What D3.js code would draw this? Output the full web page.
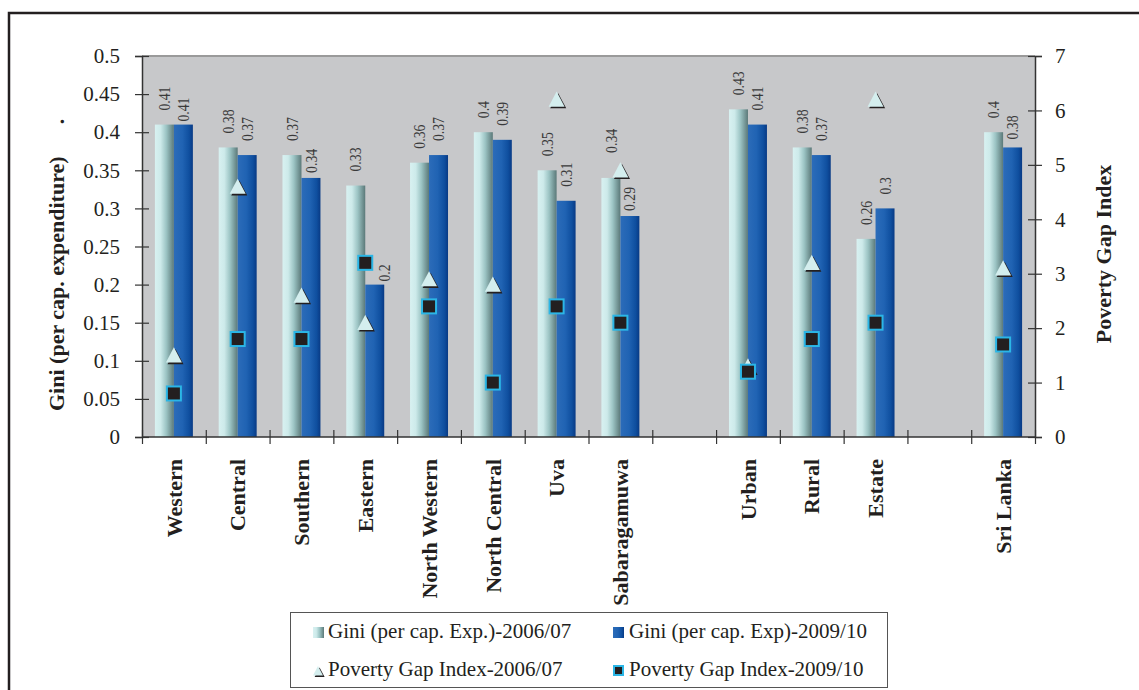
<!DOCTYPE html>
<html><head><meta charset="utf-8">
<script src="https://cdn.jsdelivr.net/npm/d3@7"></script>
<style>
html,body{margin:0;padding:0;background:#fff;}
svg{display:block;font-family:"Liberation Serif","Times New Roman",serif;}
</style></head>
<body>
<svg id="chart" width="1139" height="690"></svg>
<script>
// ---- data ----
const categories = ["Western","Central","Southern","Eastern","North Western","North Central","Uva","Sabaragamuwa","","Urban","Rural","Estate","","Sri Lanka"];
const gini2006 = [0.41,0.38,0.37,0.33,0.36,0.40,0.35,0.34,null,0.43,0.38,0.26,null,0.40];
const gini2009 = [0.41,0.37,0.34,0.20,0.37,0.39,0.31,0.29,null,0.41,0.37,0.30,null,0.38];
const pgi2006  = [1.5,4.6,2.6,2.1,2.9,2.8,6.2,4.9,null,1.3,3.2,6.2,null,3.1];
const pgi2009  = [0.8,1.8,1.8,3.2,2.4,1.0,2.4,2.1,null,1.2,1.8,2.1,null,1.7];
const giniTicks = [0,0.05,0.1,0.15,0.2,0.25,0.3,0.35,0.4,0.45,0.5];
const pgiTicks = [0,1,2,3,4,5,6,7];
const seriesNames = ["Gini (per cap. Exp.)-2006/07","Gini (per cap. Exp)-2009/10","Poverty Gap Index-2006/07","Poverty Gap Index-2009/10"];
const leftTitle = "Gini (per cap. expenditure)";
const rightTitle = "Poverty Gap Index";

// ---- layout ----
const L = 142, R = 1035, T = 56, B = 437;
const svg = d3.select("#chart");
const defs = svg.append("defs");
const g1 = defs.append("linearGradient").attr("id","gLight").attr("x1","0").attr("x2","1").attr("y1","0").attr("y2","0");
[["0%","#d8f1f1"],["30%","#cdeaea"],["60%","#9cc4c4"],["100%","#5b7979"]].forEach(s=>g1.append("stop").attr("offset",s[0]).attr("stop-color",s[1]));
const g2 = defs.append("linearGradient").attr("id","gDark").attr("x1","0").attr("x2","1").attr("y1","0").attr("y2","0");
[["0%","#2c6cb9"],["45%","#2063b3"],["80%","#0f4f9f"],["100%","#083a85"]].forEach(s=>g2.append("stop").attr("offset",s[0]).attr("stop-color",s[1]));

// outer frame
svg.append("rect").attr("x",9).attr("y",13).attr("width",1160).attr("height",700)
  .attr("fill","none").attr("stroke","#231f20").attr("stroke-width",2.5);

const x = d3.scaleBand().domain(d3.range(categories.length)).range([L,R]);
const xs = d3.scaleBand().domain([0,1]).range([0,x.bandwidth()]).paddingOuter(0.68);
const y = d3.scaleLinear().domain([0,0.5]).range([B,T]);
const y2 = d3.scaleLinear().domain([0,7]).range([B,T]);
const xb = d3.scaleLinear().domain([0,categories.length]).range([L,R]);

// plot background
svg.append("rect").attr("x",L).attr("y",T).attr("width",R-L).attr("height",B-T).attr("fill","#c7c8ca");
svg.append("line").attr("x1",L).attr("x2",R).attr("y1",T).attr("y2",T).attr("stroke","#9a9a9a").attr("stroke-width",2);

// bars
const idx = d3.range(categories.length);
[[gini2006,"url(#gLight)",0],[gini2009,"url(#gDark)",1]].forEach(([vals,fill,k])=>{
  svg.append("g").selectAll("rect").data(idx.filter(i=>vals[i]!=null)).join("rect")
    .attr("x",i=>x(i)+xs(k)).attr("width",xs.bandwidth())
    .attr("y",i=>y(vals[i])).attr("height",i=>B-y(vals[i])).attr("fill",fill);
});

// axes
function crossTicks(sel, len){ sel.selectAll(".tick line").attr("x1",-len).attr("x2",len); }
const axL = svg.append("g").attr("transform",`translate(${L},0)`)
  .call(d3.axisLeft(y).tickValues(giniTicks).tickSize(7).tickPadding(15).tickFormat(d=>String(+d.toFixed(2))));
crossTicks(axL,7);
const axR = svg.append("g").attr("transform",`translate(${R},0)`)
  .call(d3.axisRight(y2).tickValues(pgiTicks).tickSize(7).tickPadding(13).tickFormat(d3.format("d")));
crossTicks(axR,7);
const axB = svg.append("g").attr("transform",`translate(0,${B})`)
  .call(d3.axisBottom(xb).tickValues(d3.range(categories.length+1)).tickSize(7).tickFormat(""));
axB.selectAll(".tick line").attr("y1",-7).attr("y2",7);
[axL,axR,axB].forEach(a=>{
  a.select(".domain").attr("stroke","#333").attr("stroke-width",1.5);
  a.selectAll(".tick line").attr("stroke","#333").attr("stroke-width",1.2);
  a.selectAll(".tick text").attr("font-family","Liberation Serif, serif").attr("font-size",21).attr("fill","#231f20");
});
axB.select(".domain").attr("d",`M${L},0H${R}`);

// data labels
const nudge = {"0-1":[0,11],"2-1":[0,9],"3-1":[9.5,11],"7-0":[0,-11],"7-1":[0,9],"13-1":[0,6]};
[[gini2006,0],[gini2009,1]].forEach(([vals,k])=>{
  svg.append("g").selectAll("text").data(idx.filter(i=>vals[i]!=null)).join("text")
    .attr("transform",i=>{
      const n = nudge[i+"-"+k]||[0,0];
      const cx = x(i)+xs(k)+xs.bandwidth()/2+n[0];
      const cy = y(vals[i])-14+n[1];
      return `translate(${cx},${cy}) rotate(-90) scale(0.86,1)`;
    })
    .attr("dy","0.35em").attr("font-size",16).attr("fill","#3a3a3a").attr("text-anchor","start")
    .text(i=>String(vals[i]));
});

// markers
function triangle(sel, s){
  sel.append("path").attr("d",`M${1.6},${-s+1.6}L${s+1.6},${s*0.9+1.6}L${-s+1.6},${s*0.9+1.6}Z`).attr("fill","#231f20");
  sel.append("path").attr("d",`M0,${-s}L${s},${s*0.9}L${-s},${s*0.9}Z`).attr("fill","#d4eeee");
}
function square(sel, s){
  sel.append("rect").attr("x",-s).attr("y",-s).attr("width",2*s).attr("height",2*s)
    .attr("fill","#231f20").attr("stroke","#2bb6e6").attr("stroke-width",2);
}
svg.append("g").selectAll("g").data(idx.filter(i=>pgi2006[i]!=null)).join("g")
  .attr("transform",i=>`translate(${x(i)+x.bandwidth()/2},${y2(pgi2006[i])})`)
  .each(function(){ triangle(d3.select(this),8); });
svg.append("g").selectAll("g").data(idx.filter(i=>pgi2009[i]!=null)).join("g")
  .attr("transform",i=>`translate(${x(i)+x.bandwidth()/2},${y2(pgi2009[i])})`)
  .each(function(){ square(d3.select(this),7); });

// category labels
svg.append("g").selectAll("text").data(idx.filter(i=>categories[i]!=="")).join("text")
  .attr("transform",i=>`translate(${x(i)+x.bandwidth()/2},459) rotate(-90)`)
  .attr("dy","0.35em").attr("text-anchor","end").attr("font-size",22).attr("font-weight","bold")
  .attr("fill","#231f20").text(i=>categories[i]);

// axis titles
const lt = svg.append("text").attr("transform","translate(56,411) rotate(-90)")
  .attr("dy","0.35em").attr("text-anchor","start").attr("font-size",22).attr("font-weight","bold").attr("fill","#231f20");
lt.append("tspan").text(leftTitle);
lt.append("tspan").attr("dx",32).text(".");
svg.append("text").attr("transform","translate(1103,254) rotate(-90)")
  .attr("dy","0.35em").attr("text-anchor","middle").attr("font-size",22).attr("font-weight","bold")
  .attr("fill","#231f20").text(rightTitle);

// legend
const lg = svg.append("g");
lg.append("rect").attr("x",290.5).attr("y",612.5).attr("width",597).attr("height",75)
  .attr("fill","#fff").attr("stroke","#555").attr("stroke-width",1);
const legPos = [[313,632],[613,632],[313,670],[613,670]];
seriesNames.forEach((name,k)=>{
  const [lx,ly] = legPos[k];
  const it = lg.append("g").attr("transform",`translate(${lx},${ly})`);
  if(k===0) it.append("rect").attr("x",0).attr("y",-5).attr("width",11).attr("height",11).attr("fill","url(#gLight)");
  if(k===1) it.append("rect").attr("x",0).attr("y",-5).attr("width",11).attr("height",11).attr("fill","url(#gDark)");
  if(k===2){ const t = it.append("g").attr("transform","translate(5,1)"); triangle(t,5); }
  if(k===3){ const t = it.append("g").attr("transform","translate(5.5,0.5)"); square(t,4.5); }
  it.append("text").attr("x",k%2===0?15:16).attr("y",6).attr("font-size",21).attr("fill","#231f20").text(name);
});
</script>
</body></html>
